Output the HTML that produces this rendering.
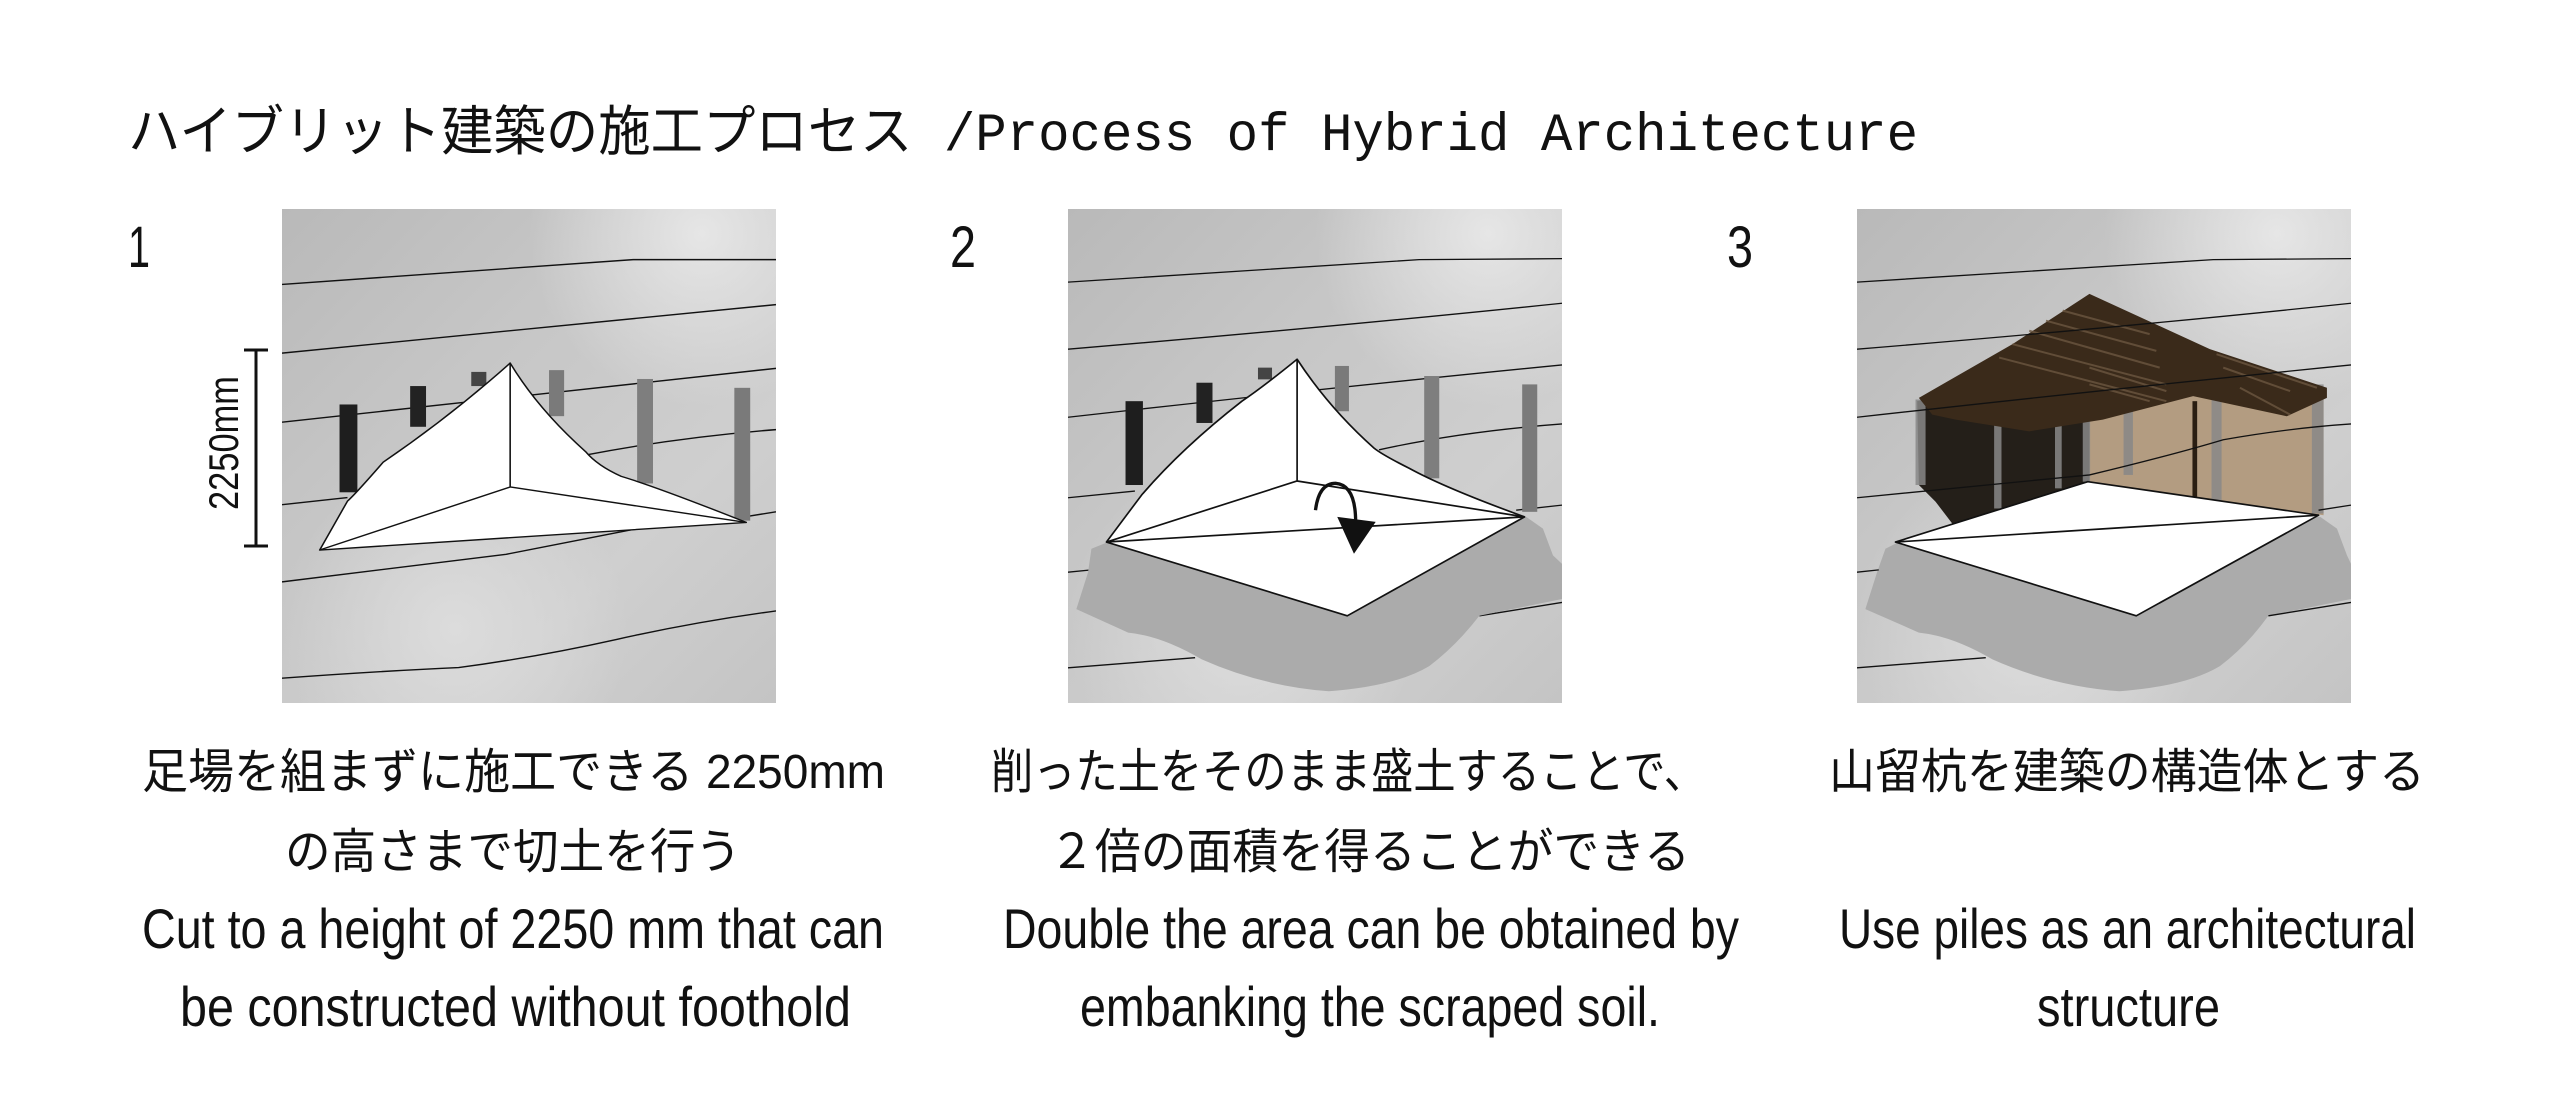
<!DOCTYPE html>
<html><head><meta charset="utf-8"><style>
html,body{margin:0;padding:0;background:#fff;}
body{width:2552px;height:1113px;position:relative;overflow:hidden;}
svg{position:absolute;display:block;}
</style></head><body>
<svg width="2552" height="1113" viewBox="0 0 2552 1113" style="left:0;top:0">
<g font-family="'Liberation Sans Narrow','Liberation Sans','Noto Sans CJK JP',sans-serif" fill="#111">
<text x="128" y="150" font-size="54" textLength="1790" lengthAdjust="spacingAndGlyphs" font-family="'Liberation Mono','Noto Sans CJK JP',monospace">ハイブリット建築の施工プロセス /Process of Hybrid Architecture</text>
<text x="128" y="267" font-size="58" textLength="22" lengthAdjust="spacingAndGlyphs">1</text>
<text x="950" y="267" font-size="58" textLength="26" lengthAdjust="spacingAndGlyphs">2</text>
<text x="1727" y="267" font-size="58" textLength="26" lengthAdjust="spacingAndGlyphs">3</text>

<text x="142" y="788" font-size="48" textLength="743" lengthAdjust="spacingAndGlyphs">足場を組まずに施工できる 2250mm</text>
<text x="285" y="868" font-size="48" textLength="456" lengthAdjust="spacingAndGlyphs">の高さまで切土を行う</text>
<text x="142" y="948" font-size="56" textLength="742" lengthAdjust="spacingAndGlyphs">Cut to a height of 2250 mm that can</text>
<text x="180" y="1026" font-size="56" textLength="671" lengthAdjust="spacingAndGlyphs">be constructed without foothold</text>

<text x="991" y="788" font-size="48" textLength="715" lengthAdjust="spacingAndGlyphs">削った土をそのまま盛土することで、</text>
<text x="1049" y="868" font-size="48" textLength="641" lengthAdjust="spacingAndGlyphs">２倍の面積を得ることができる</text>
<text x="1003" y="948" font-size="56" textLength="736" lengthAdjust="spacingAndGlyphs">Double the area can be obtained by</text>
<text x="1080" y="1026" font-size="56" textLength="580" lengthAdjust="spacingAndGlyphs">embanking the scraped soil.</text>

<text x="1829" y="788" font-size="48" textLength="596" lengthAdjust="spacingAndGlyphs">山留杭を建築の構造体とする</text>
<text x="1839" y="948" font-size="56" textLength="577" lengthAdjust="spacingAndGlyphs">Use  piles as an architectural</text>
<text x="2037" y="1026" font-size="56" textLength="183" lengthAdjust="spacingAndGlyphs">structure</text>
</g>
<g stroke="#111" stroke-width="3">
<line x1="256" y1="350" x2="256" y2="546"/>
<line x1="244" y1="350" x2="268" y2="350"/>
<line x1="244" y1="546" x2="268" y2="546"/>
</g>
<text transform="translate(238,510) rotate(-90)" font-family="'Liberation Sans',sans-serif" font-size="42" textLength="134" lengthAdjust="spacingAndGlyphs" fill="#111">2250mm</text>
</svg>

<svg width="2552" height="0" style="left:0;top:0"><defs>
<linearGradient id="bg" x1="0" y1="0" x2="1" y2="1">
<stop offset="0" stop-color="#b9b9b9"/><stop offset="0.35" stop-color="#c6c6c6"/><stop offset="0.7" stop-color="#cfcfcf"/><stop offset="1" stop-color="#c4c4c4"/></linearGradient>
<radialGradient id="hl" cx="0.85" cy="0.05" r="0.35"><stop offset="0" stop-color="#e6e6e6"/><stop offset="1" stop-color="#e6e6e6" stop-opacity="0"/></radialGradient>
<radialGradient id="hl2" cx="0.35" cy="0.85" r="0.35"><stop offset="0" stop-color="#dcdcdc"/><stop offset="1" stop-color="#dcdcdc" stop-opacity="0"/></radialGradient>
</defs></svg>

<!-- Panel 1 -->
<svg width="494" height="494" viewBox="255 55 1245 1395" preserveAspectRatio="none" style="left:282px;top:209px">
<rect x="255" y="55" width="1245" height="1395" fill="url(#bg)"/>
<rect x="255" y="55" width="1245" height="1395" fill="url(#hl)"/>
<rect x="255" y="55" width="1245" height="1395" fill="url(#hl2)"/>
<g fill="none" stroke="#111" stroke-width="4">
<path d="M255,268 L1140,198 L1500,198"/>
<path d="M255,462 Q900,390 1500,325"/>
<path d="M255,657 Q900,580 1500,505"/>
<path d="M255,890 L420,870"/>
<path d="M1020,750 Q1250,700 1500,678"/>
<path d="M1390,930 L1500,910"/>
<path d="M255,1108 Q600,1060 820,1030 Q1000,990 1140,960"/>
<path d="M255,1380 Q500,1360 700,1350 Q900,1320 1100,1270 Q1300,1220 1500,1190"/>
</g>
<g>
<rect x="400" y="607" width="45" height="248" fill="#1e1e1e"/>
<rect x="578" y="555" width="40" height="115" fill="#222"/>
<rect x="732" y="515" width="38" height="40" fill="#444"/>
<rect x="928" y="510" width="38" height="130" fill="#7a7a7a"/>
<rect x="1150" y="535" width="40" height="295" fill="#7e7e7e"/>
<rect x="1395" y="560" width="40" height="375" fill="#7a7a7a"/>
</g>
<g stroke="#111" stroke-width="4" stroke-linejoin="round" fill="#fff">
<path d="M830,490 Q680,640 510,770 Q440,860 420,880 L350,1018 L1425,940 Q1200,840 1110,810 Q1050,780 1020,740 Q900,620 830,490 Z"/>
<path d="M830,490 L830,840 M350,1018 L830,840 L1425,940" fill="none"/>
</g>
</svg>

<!-- Panel 2 -->
<svg width="494" height="494" viewBox="20 27 1477 1473" preserveAspectRatio="none" style="left:1068px;top:209px">
<rect x="20" y="27" width="1477" height="1473" fill="url(#bg)"/>
<rect x="20" y="27" width="1477" height="1473" fill="url(#hl)"/>
<rect x="20" y="27" width="1477" height="1473" fill="url(#hl2)"/>
<g fill="none" stroke="#111" stroke-width="4">
<path d="M20,245 L1070,178 L1497,175"/>
<path d="M20,445 Q800,380 1497,308"/>
<path d="M20,648 Q800,560 1497,492"/>
<path d="M20,888 L220,868"/>
<path d="M950,745 Q1200,690 1497,668"/>
<path d="M1360,925 L1497,910"/>
<path d="M20,1110 L90,1103"/>
<path d="M1250,1240 L1497,1200"/>
<path d="M20,1395 L400,1365"/>
</g>
<path d="M90,1040 L140,1020 L1390,945 L1440,980 L1470,1060 L1497,1085 L1497,1190 L1250,1240 Q1180,1330 1100,1390 Q1000,1450 800,1465 Q600,1450 420,1370 Q300,1300 200,1290 L45,1220 L80,1110 Z" fill="#ababab"/>
<g>
<rect x="192" y="600" width="52" height="250" fill="#1e1e1e"/>
<rect x="404" y="545" width="48" height="120" fill="#222"/>
<rect x="588" y="500" width="42" height="35" fill="#444"/>
<rect x="818" y="495" width="42" height="135" fill="#7a7a7a"/>
<rect x="1085" y="525" width="45" height="305" fill="#7e7e7e"/>
<rect x="1378" y="550" width="45" height="380" fill="#7a7a7a"/>
</g>
<g stroke="#111" stroke-width="5" stroke-linejoin="round" fill="#fff">
<path d="M705,475 Q600,560 540,600 Q360,740 240,880 L135,1020 L855,1240 L1385,945 Q1150,860 1040,800 Q960,760 935,740 Q800,620 705,475 Z"/>
<path d="M705,475 L705,838 M135,1020 L705,838 L1385,945 M135,1020 L1385,945" fill="none"/>
</g>
<path d="M760,925 Q770,845 820,845 Q880,850 880,960" fill="none" stroke="#111" stroke-width="10"/>
<path d="M825,945 L940,960 L875,1055 Z" fill="#111"/>
</svg>

<!-- Panel 3 -->
<svg width="494" height="494" viewBox="5 27 1477 1473" preserveAspectRatio="none" style="left:1857px;top:209px">
<rect x="5" y="27" width="1477" height="1473" fill="url(#bg)"/>
<rect x="5" y="27" width="1477" height="1473" fill="url(#hl)"/>
<rect x="5" y="27" width="1477" height="1473" fill="url(#hl2)"/>
<path d="M90,1040 L130,1020 L1390,945 L1440,980 L1470,1060 L1482,1085 L1482,1190 L1235,1240 Q1170,1330 1090,1390 Q990,1450 790,1465 Q590,1450 410,1370 Q290,1300 190,1290 L30,1220 L65,1110 Z" fill="#ababab"/>
<path d="M185,600 L700,480 L700,840 L290,965 L240,900 L190,850 Z" fill="#241f19"/>
<path d="M700,490 L1000,560 L1400,560 L1400,940 L700,840 Z" fill="#b39c81"/>
<g fill="#888" opacity="0.85">
<rect x="180" y="595" width="30" height="255"/>
<rect x="415" y="550" width="22" height="370"/>
<rect x="597" y="515" width="20" height="345"/>
<rect x="680" y="490" width="22" height="350"/>
<rect x="802" y="490" width="28" height="330"/>
<rect x="1065" y="530" width="30" height="365"/>
<rect x="1365" y="550" width="35" height="385"/>
</g>
<rect x="1008" y="600" width="14" height="285" fill="#2a1e12"/>
<path d="M190,590 L470,430 L700,280 L1060,445 L1410,560 L1410,590 L1290,645 L1010,585 L740,655 L520,690 L300,655 L230,640 Z" fill="#3a2a1a"/>
<g stroke="#6b5640" stroke-width="6" opacity="0.8">
<path d="M620,330 L880,400"/><path d="M570,360 L900,450"/><path d="M520,390 L910,500"/><path d="M470,430 L930,550"/><path d="M430,470 L930,600"/><path d="M700,500 L930,570"/><path d="M700,550 L880,600"/><path d="M1080,460 L1380,560"/><path d="M1100,500 L1300,570"/><path d="M1150,560 L1300,640"/>
</g>
<g fill="none" stroke="#111" stroke-width="4">
<path d="M5,245 L1070,178 L1482,175"/>
<path d="M5,445 Q800,380 1482,308"/>
<path d="M5,648 Q800,560 1482,492"/>
<path d="M5,888 Q400,850 700,820 Q950,760 1100,715 Q1300,680 1482,668"/>
<path d="M1385,925 L1482,910"/>
<path d="M5,1110 L70,1103"/>
<path d="M1235,1240 L1482,1200"/>
<path d="M5,1395 L390,1365"/>
</g>
<g stroke="#111" stroke-width="5" stroke-linejoin="round" fill="#fff">
<path d="M120,1020 L695,840 L1385,940 L840,1240 Z"/>
<path d="M120,1020 L1385,940" fill="none"/>
</g>
</svg>
</body></html>
